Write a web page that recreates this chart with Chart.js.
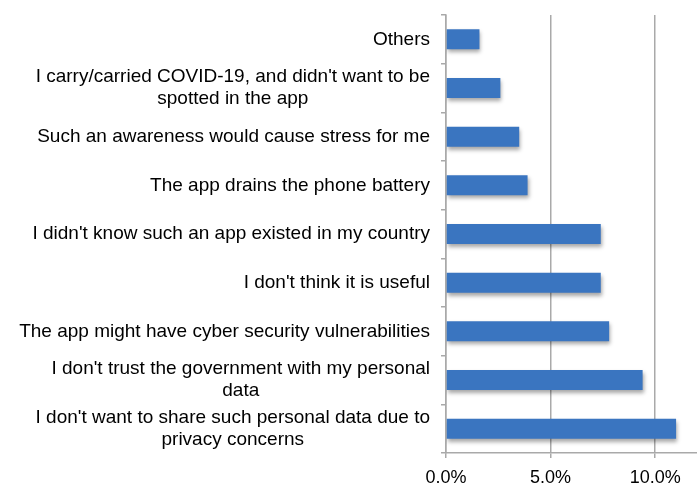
<!DOCTYPE html>
<html>
<head>
<meta charset="utf-8">
<script src="https://cdn.jsdelivr.net/npm/chart.js@4"></script>
<style>
  html, body { margin: 0; padding: 0; background: #fff; }
  #wrap { width: 697px; height: 494px; }
</style>
</head>
<body>
<div id="wrap"><canvas id="chart"></canvas></div>
<script>
// reasons, top to bottom (multi-line labels as arrays)
const reasons = [
  ['Others'],
  ["I carry/carried COVID-19, and didn't want to be", 'spotted in the app'],
  ['Such an awareness would cause stress for me'],
  ['The app drains the phone battery'],
  ["I didn't know such an app existed in my country"],
  ["I don't think it is useful"],
  ['The app might have cyber security vulnerabilities'],
  ["I don't trust the government with my personal", 'data'],
  ["I don't want to share such personal data due to", 'privacy concerns']
];
const shares = [1.6, 2.6, 3.5, 3.9, 7.4, 7.4, 7.8, 9.4, 11.0];
const xTicks = [0, 5, 10];

const FONT = '"Liberation Sans", Arial, Helvetica, sans-serif';
const GRAY = '#a9a9a9';

// bar fill: lighter on top, darker at the bottom
function barGradient(context) {
  const chart = context.chart;
  const el = context.element;
  if (!chart.chartArea || !el || el.y === undefined) return '#3a75c0';
  const h = el.height || 20;
  const g = chart.ctx.createLinearGradient(0, el.y - h / 2, 0, el.y + h / 2);
  g.addColorStop(0, '#4d8bd6');
  g.addColorStop(0.5, '#3a74bf');
  g.addColorStop(1, '#2c5e9f');
  return g;
}

// soft shadow under the bars
const barShadow = {
  id: 'barShadow',
  beforeDatasetsDraw(chart) {
    const ctx = chart.ctx;
    ctx.save();
    ctx.shadowColor = 'rgba(0,0,0,0.35)';
    ctx.shadowBlur = 4;
    ctx.shadowOffsetX = 1;
    ctx.shadowOffsetY = 3;
  },
  afterDatasetsDraw(chart) {
    chart.ctx.restore();
  }
};

// category labels: block right-aligned, lines centred inside each block
const yLabels = {
  id: 'yLabels',
  afterDraw(chart) {
    const ctx = chart.ctx;
    const yScale = chart.scales.y;
    const right = chart.chartArea.left - 16;
    const lineH = 22;
    ctx.save();
    ctx.font = '19px ' + FONT;
    ctx.fillStyle = '#000';
    ctx.textAlign = 'center';
    ctx.textBaseline = 'middle';
    reasons.forEach((lines, i) => {
      const cy = yScale.getPixelForValue(i);
      const w = Math.max(...lines.map(l => ctx.measureText(l).width));
      const cx = right - w / 2;
      const top = cy - (lines.length - 1) * lineH / 2;
      lines.forEach((l, j) => ctx.fillText(l, cx, top + j * lineH));
    });
    ctx.restore();
  }
};

new Chart(document.getElementById('chart'), {
  type: 'bar',
  data: {
    labels: reasons,
    datasets: [{
      data: shares,
      backgroundColor: barGradient,
      borderWidth: 0,
      barPercentage: 0.41,
      categoryPercentage: 1
    }]
  },
  plugins: [barShadow, yLabels],
  options: {
    indexAxis: 'y',
    responsive: true,
    maintainAspectRatio: false,
    animation: false,
    layout: { padding: { top: 15, right: 0, bottom: 0, left: 0 } },
    plugins: { legend: { display: false }, tooltip: { enabled: false } },
    scales: {
      x: {
        min: 0,
        max: 12,
        afterBuildTicks: scale => { scale.ticks = xTicks.map(v => ({ value: v })); },
        afterFit: scale => { scale.height = 41; },
        grid: { color: GRAY, lineWidth: 1.5, tickLength: 5 },
        border: { color: GRAY, width: 1.5 },
        ticks: {
          padding: 9,
          color: '#000',
          font: { family: FONT, size: 18 },
          callback: v => v.toFixed(1) + '%'
        }
      },
      y: {
        afterFit: scale => { scale.width = 446; },
        grid: { offset: true, drawOnChartArea: false, color: GRAY, lineWidth: 1.5, tickLength: 5 },
        border: { color: GRAY, width: 1.5 },
        ticks: { color: 'rgba(0,0,0,0)', callback: () => '' }
      }
    }
  }
});
</script>
</body>
</html>
